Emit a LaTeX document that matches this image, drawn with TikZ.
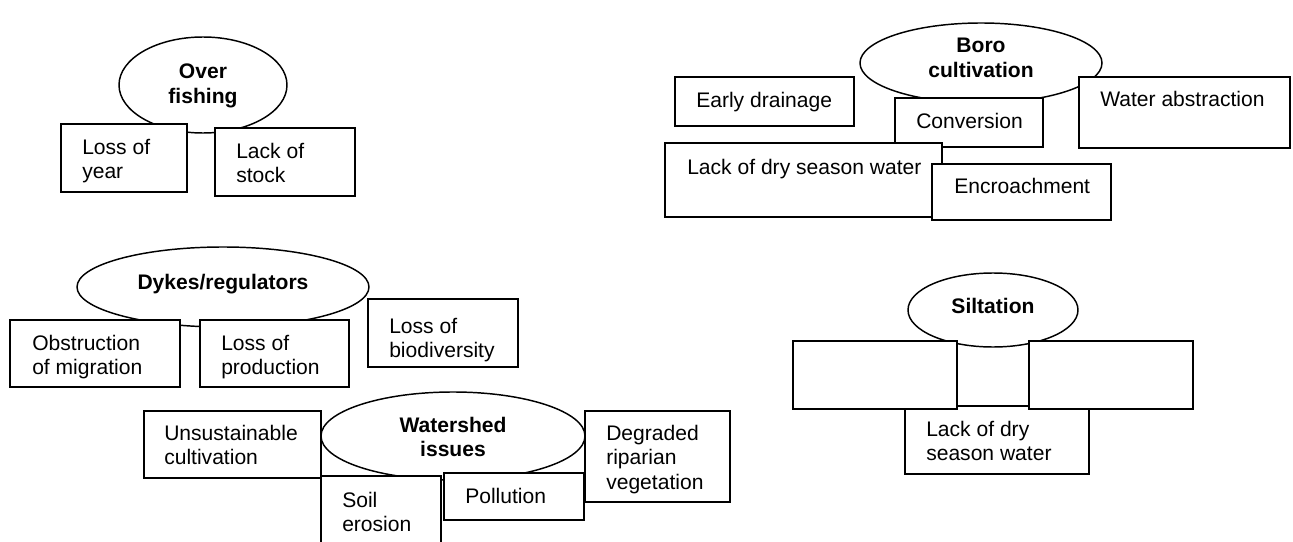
\documentclass[tikz,border=0pt]{standalone}
\usepackage{fontspec}
\setmainfont{Liberation Sans}
\usetikzlibrary{shapes.geometric}
\tikzset{
  cell/.style={draw, fill=white, line width=1.5pt, rectangle, inner sep=0pt},
  bubble/.style={draw, fill=white, line width=1.1pt, ellipse, inner sep=0pt},
  lbl/.style={anchor=base west, inner sep=0pt, font=\fontsize{15.8}{18.4}\selectfont},
  head/.style={anchor=base, inner sep=0pt, font=\fontsize{15.8}{18.4}\selectfont\bfseries},
}
% box from (x1,y1) to (x2,y2) with its text starting at (tx, first baseline ty)
\newcommand\cellbox[8]{%
  \node[cell, minimum width={(#4-#2)*0.75pt}, minimum height={(#5-#3)*0.75pt}]
    (#1) at ({(#2+#4)/2},{(#3+#5)/2}) {};
  \node[lbl] (#1-t) at (#6,#7) {\begin{tabular}[t]{@{}l@{}}#8\end{tabular}};}
% ellipse centred at (cx,cy) with radii rx, ry; title centred on cx, first baseline ty
\newcommand\bubble[7]{%
  \node[bubble, minimum width={2*#4*0.75pt}, minimum height={2*#5*0.75pt}]
    (#1) at (#2,#3) {};
  \node[head] (#1-t) at (#2,#6) {\begin{tabular}[t]{@{}c@{}}#7\end{tabular}};}
\begin{document}
\begin{tikzpicture}[x=0.75pt,y=-0.75pt]
\useasboundingbox (0,0) rectangle (1293,542);
\clip (0,0) rectangle (1293,542);

% Over fishing
\bubble{of}{203}{85}{84}{48}{79}{Over\\fishing}
\cellbox{loy}{61}{124}{187}{192}{82}{154}{Loss of\\year}
\cellbox{los}{215}{128}{355}{196}{236}{158}{Lack of\\stock}

% Boro cultivation
\bubble{bc}{981}{63}{121}{40}{53}{Boro\\cultivation}
\cellbox{ed}{675}{77}{854}{126}{696}{108}{Early drainage}
\cellbox{cv}{895}{98}{1043}{147}{916}{128}{Conversion}
\cellbox{wa}{1079}{77}{1290}{148}{1100}{107}{Water abstraction}
\cellbox{ldw}{665}{143}{942}{217}{687}{175}{Lack of dry season water}
\cellbox{en}{932}{164}{1111}{220}{954}{193}{Encroachment}

% Dykes/regulators
\bubble{dk}{223}{287}{146}{40}{289}{Dykes/regulators}
\cellbox{om}{10}{320}{180}{387}{32}{350}{Obstruction\\of migration}
\cellbox{lp}{200}{320}{349}{387}{221}{350}{Loss of\\production}
\cellbox{lb}{368}{299}{518}{367}{389}{333}{Loss of\\biodiversity}

% Watershed issues
\bubble{ws}{453}{436}{132}{44}{432}{Watershed\\issues}
\cellbox{uc}{144}{411}{321}{478}{164}{440}{Unsustainable\\cultivation}
\cellbox{se}{321}{476}{441}{570}{342}{507}{Soil\\erosion}
\cellbox{po}{444}{473}{584}{520}{465}{503}{Pollution}
\cellbox{drv}{585}{411}{730}{502}{606}{440}{Degraded\\riparian\\vegetation}

% Siltation
\bubble{si}{993}{310}{85}{37}{313}{Siltation}
\cellbox{sl}{905}{406}{1089}{474}{926}{436}{Lack of dry\\season water}
\cellbox{sa}{793}{341}{957}{409}{0}{0}{}
\cellbox{sb}{1029}{341}{1193}{409}{0}{0}{}
\end{tikzpicture}
\end{document}
